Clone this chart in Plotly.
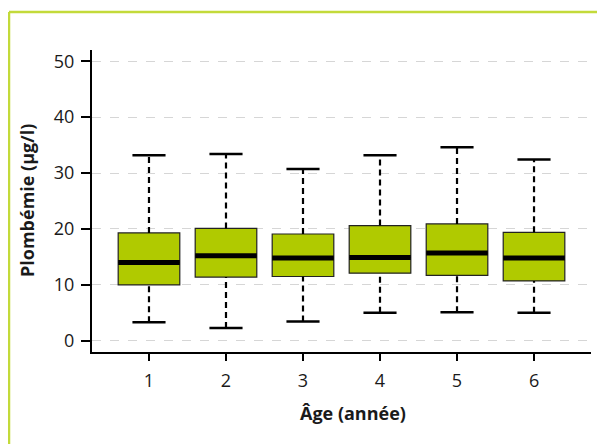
import plotly.graph_objects as go

ages = [1, 2, 3, 4, 5, 6]
tick_labels = ["1", "2", "3", "4", "5", "6"]
lower_whisker = [3.3, 2.3, 3.45, 5.0, 5.1, 5.0]
q1 = [10.0, 11.4, 11.5, 12.1, 11.7, 10.7]
median = [14.0, 15.2, 14.8, 14.9, 15.7, 14.8]
q3 = [19.3, 20.1, 19.1, 20.6, 20.9, 19.4]
upper_whisker = [33.2, 33.4, 30.7, 33.2, 34.6, 32.4]

BOX_W = 0.8
CAP_W = 0.43
FONT = "Open Sans"

fig = go.Figure()

# whiskers (dashed)
wx, wy = [], []
for a, lw, l1, h3, uw in zip(ages, lower_whisker, q1, q3, upper_whisker):
    wx += [a, a, None, a, a, None]
    wy += [lw, l1, None, h3, uw, None]
fig.add_trace(go.Scatter(x=wx, y=wy, mode="lines", line=dict(color="black", width=2.2, dash="6px,4px"),
                         hoverinfo="skip", showlegend=False))

# caps
cx, cy = [], []
for a, lw, uw in zip(ages, lower_whisker, upper_whisker):
    cx += [a - CAP_W / 2, a + CAP_W / 2, None, a - CAP_W / 2, a + CAP_W / 2, None]
    cy += [lw, lw, None, uw, uw, None]
fig.add_trace(go.Scatter(x=cx, y=cy, mode="lines", line=dict(color="black", width=2.5),
                         hoverinfo="skip", showlegend=False))

# boxes
fig.add_trace(go.Box(x=ages, q1=q1, median=median, q3=q3, lowerfence=q1, upperfence=q3,
                     width=BOX_W, fillcolor="#b0ca00", line=dict(color="#222222", width=1.2),
                     whiskerwidth=0, boxpoints=False, showlegend=False, hoverinfo="skip"))

# medians (thick)
mx, my = [], []
for a, m in zip(ages, median):
    mx += [a - BOX_W / 2, a + BOX_W / 2, None]
    my += [m, m, None]
fig.add_trace(go.Scatter(x=mx, y=my, mode="lines", line=dict(color="black", width=5),
                         hoverinfo="skip", showlegend=False))

OFF = 8  # page body margin
W, H = 605 - OFF, 444 - OFF
L, T = 92 - OFF, 50 - OFF
R, B = 14, 92
pw, ph = W - L - R, H - T - B


def px_x(x):
    return (x - OFF - L) / pw


def px_y(y):
    return (T + ph - (y - OFF)) / ph


fig.update_layout(
    width=W, height=H,
    margin=dict(l=L, r=R, t=T, b=B),
    paper_bgcolor="white", plot_bgcolor="white",
    font=dict(family=FONT, size=18, color="#1a1a1a"),
    xaxis=dict(range=[0.26, 6.74], tickmode="array", tickvals=ages, ticktext=tick_labels,
               showgrid=False, zeroline=False, showline=True, linecolor="black", linewidth=2,
               ticks="outside", ticklen=7, tickwidth=2, tickcolor="black", ticklabelstandoff=4,
               tickfont=dict(family=FONT, size=18)),
    yaxis=dict(range=[-2, 52], tickvals=[0, 10, 20, 30, 40, 50],
               showgrid=True, gridcolor="#d6d6d6", gridwidth=1, griddash="dash",
               zeroline=False, showline=True, linecolor="black", linewidth=2,
               ticks="outside", ticklen=9, tickwidth=2, tickcolor="black", ticklabelstandoff=3,
               tickfont=dict(family=FONT, size=18)),
    annotations=[
        dict(text="<b>Âge (année)</b>", xref="paper", yref="paper",
             x=px_x(353), y=px_y(413), showarrow=False,
             xanchor="center", yanchor="middle", font=dict(family=FONT, size=18)),
        dict(text="<b>Plombémie (µg/l)</b>", xref="paper", yref="paper",
             x=px_x(27), y=px_y(201), showarrow=False, textangle=-90,
             xanchor="center", yanchor="middle", font=dict(family=FONT, size=18)),
    ],
    shapes=[
        dict(type="line", xref="paper", yref="paper", x0=px_x(9), x1=1.2,
             y0=px_y(12), y1=px_y(12), line=dict(color="#c3da3a", width=2.5)),
        dict(type="line", xref="paper", yref="paper", x0=px_x(9), x1=px_x(9),
             y0=-0.5, y1=px_y(12), line=dict(color="#c3da3a", width=2.5)),
    ],
)

fig.write_html("out.html")
